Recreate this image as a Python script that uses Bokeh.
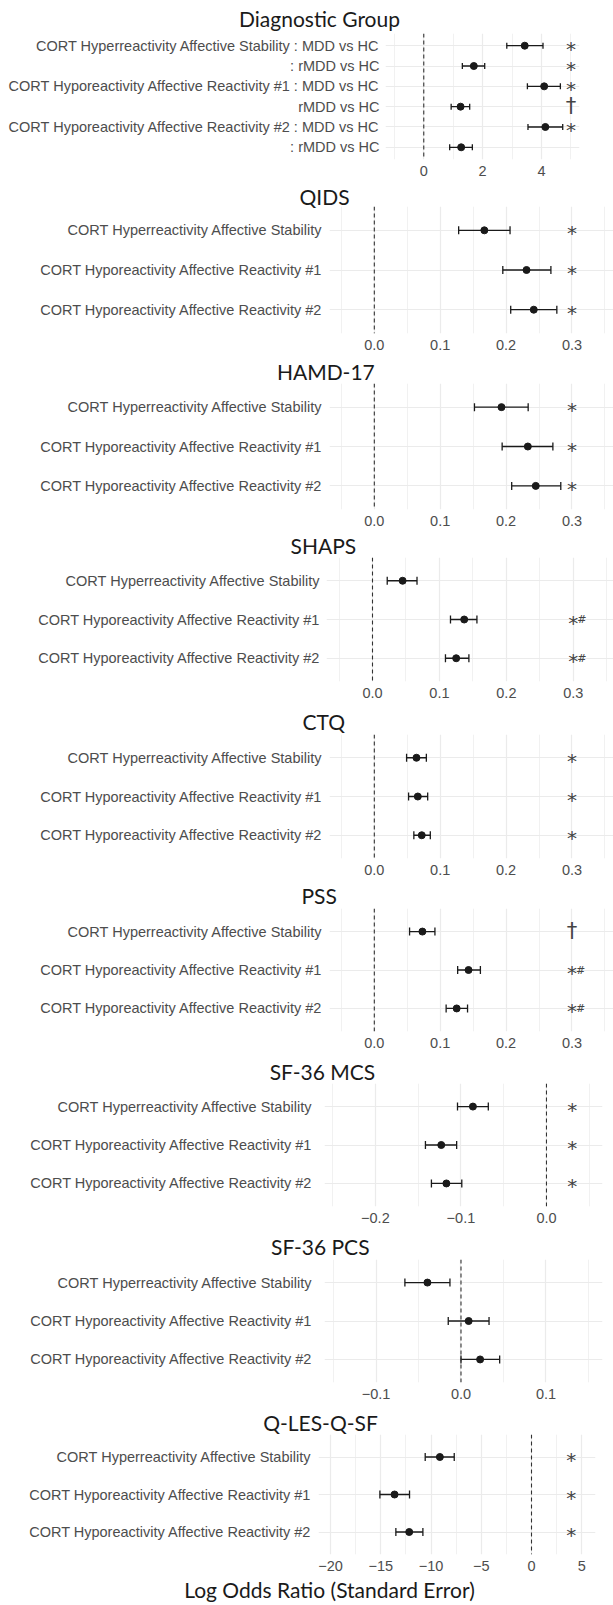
from bokeh.plotting import figure
from bokeh.layouts import column
from bokeh.models import FixedTicker, Span, Title, Whisker, TeeHead, ColumnDataSource, Range1d
from bokeh.core.properties import value
from bokeh.embed import file_html
from bokeh.resources import INLINE

# ---------------- data ----------------
panel_titles = ["Diagnostic Group", "QIDS", "HAMD-17", "SHAPS", "CTQ", "PSS",
                "SF-36 MCS", "SF-36 PCS", "Q-LES-Q-SF"]
axis_title = "Log Odds Ratio (Standard Error)"

dx_labels = ["CORT Hyperreactivity Affective Stability : MDD vs HC",
             ": rMDD vs HC",
             "CORT Hyporeactivity Affective Reactivity #1 : MDD vs HC",
             "rMDD vs HC",
             "CORT Hyporeactivity Affective Reactivity #2 : MDD vs HC",
             ": rMDD vs HC"]
scale_labels = ["CORT Hyperreactivity Affective Stability",
                "CORT Hyporeactivity Affective Reactivity #1",
                "CORT Hyporeactivity Affective Reactivity #2"]

dx_est = [3.43, 1.70, 4.09, 1.25, 4.13, 1.27]
dx_lo = [2.82, 1.31, 3.52, 0.93, 3.54, 0.88]
dx_hi = [4.05, 2.07, 4.64, 1.56, 4.72, 1.65]
dx_sig = ["*", "*", "*", "†", "*", ""]
dx_hash = ["", "", "", "", "", ""]

qids_est = [0.167, 0.231, 0.242]
qids_lo = [0.128, 0.195, 0.207]
qids_hi = [0.206, 0.268, 0.277]
qids_sig = ["*", "*", "*"]

hamd_est = [0.193, 0.233, 0.245]
hamd_lo = [0.152, 0.194, 0.2085]
hamd_hi = [0.2335, 0.271, 0.283]
hamd_sig = ["*", "*", "*"]

shaps_est = [0.045, 0.137, 0.125]
shaps_lo = [0.022, 0.1165, 0.109]
shaps_hi = [0.0665, 0.156, 0.144]
shaps_sig = ["", "*", "*"]
shaps_hash = ["", "#", "#"]

ctq_est = [0.064, 0.066, 0.072]
ctq_lo = [0.049, 0.052, 0.060]
ctq_hi = [0.079, 0.081, 0.085]
ctq_sig = ["*", "*", "*"]

pss_est = [0.073, 0.143, 0.125]
pss_lo = [0.0535, 0.1265, 0.109]
pss_hi = [0.092, 0.161, 0.1415]
pss_sig = ["†", "*", "*"]
pss_hash = ["", "#", "#"]

mcs_est = [-0.086, -0.123, -0.117]
mcs_lo = [-0.104, -0.1415, -0.1345]
mcs_hi = [-0.068, -0.105, -0.099]
mcs_sig = ["*", "*", "*"]

pcs_est = [-0.0395, 0.009, 0.0225]
pcs_lo = [-0.066, -0.015, 0.0]
pcs_hi = [-0.013, 0.033, 0.0455]
pcs_sig = ["", "", ""]

qles_est = [-9.12, -13.63, -12.17]
qles_lo = [-10.58, -15.09, -13.5]
qles_hi = [-7.69, -12.14, -10.81]
qles_sig = ["*", "*", "*"]

no_hash = ["", "", ""]

# x position of the significance column in each panel
sig_x = [5.0, 0.3, 0.3, 0.3, 0.3, 0.3, 0.03, 0.03, 3.95]

# x ticks
ticks_dx = [0, 2, 4]
tlab_dx = ["0", "2", "4"]
minor_dx = [-1, 1, 3, 5]
ticks_pos = [0.0, 0.1, 0.2, 0.3]
tlab_pos = ["0.0", "0.1", "0.2", "0.3"]
minor_pos = [-0.05, 0.05, 0.15, 0.25, 0.35]
ticks_mcs = [-0.2, -0.1, 0.0]
tlab_mcs = ["\u22120.2", "\u22120.1", "0.0"]
minor_mcs = [-0.25, -0.15, -0.05, 0.05]
ticks_pcs = [-0.1, 0.0, 0.1]
tlab_pcs = ["\u22120.1", "0.0", "0.1"]
minor_pcs = [-0.15, -0.05, 0.05, 0.15]
ticks_qles = [-20, -15, -10, -5, 0, 5]
tlab_qles = ["\u221220", "\u221215", "\u221210", "\u22125", "0", "5"]
minor_qles = [-22.5, -17.5, -12.5, -7.5, -2.5, 2.5]

panels = [
    (dx_labels, dx_est, dx_lo, dx_hi, dx_sig, dx_hash, ticks_dx, tlab_dx, minor_dx),
    (scale_labels, qids_est, qids_lo, qids_hi, qids_sig, no_hash, ticks_pos, tlab_pos, minor_pos),
    (scale_labels, hamd_est, hamd_lo, hamd_hi, hamd_sig, no_hash, ticks_pos, tlab_pos, minor_pos),
    (scale_labels, shaps_est, shaps_lo, shaps_hi, shaps_sig, shaps_hash, ticks_pos, tlab_pos, minor_pos),
    (scale_labels, ctq_est, ctq_lo, ctq_hi, ctq_sig, no_hash, ticks_pos, tlab_pos, minor_pos),
    (scale_labels, pss_est, pss_lo, pss_hi, pss_sig, pss_hash, ticks_pos, tlab_pos, minor_pos),
    (scale_labels, mcs_est, mcs_lo, mcs_hi, mcs_sig, no_hash, ticks_mcs, tlab_mcs, minor_mcs),
    (scale_labels, pcs_est, pcs_lo, pcs_hi, pcs_sig, no_hash, ticks_pcs, tlab_pcs, minor_pcs),
    (scale_labels, qles_est, qles_lo, qles_hi, qles_sig, no_hash, ticks_qles, tlab_qles, minor_qles),
]

# ---------------- layout (style only) ----------------
# height, border_top, border_bottom, border_left, border_right, x_start, x_end,
# label standoff, title offset (from frame left), title standoff, tee size
layout = [
    (178, 33, 19, 385, 34, -1.30, 5.29, 6, -146.5, 4.2, 6),
    (174, 28, 19, 329, 0, -0.068, 0.363, 7, -30.0, -6, 8),
    (176, 31, 19, 329, 0, -0.068, 0.363, 7, -52.6, -3, 8),
    (172, 29, 19, 326, 0, -0.0687, 0.360, 6, -36.0, -2, 8),
    (177, 34, 19, 329, 0, -0.068, 0.363, 7, -27.0, 0, 8),
    (173, 31, 19, 329, 0, -0.068, 0.363, 7, -28.0, 0, 8),
    (175, 33, 19, 324, 11, -0.2595, 0.0655, 12, -54.8, -2.2, 8),
    (176, 34, 19, 324, 11, -0.1606, 0.1665, 12, -53.5, 0, 8),
    (204, 33, 49, 318, 18, -21.2, 6.37, 7, -55.3, -2, 8),
]
axis_title_offset = -134.3
axis_title_standoff = 5

W = 613
LABEL_FONT = "Liberation Sans"
TITLE_FONT = "Lato"
GRID = "#EBEBEB"
INK = "#1a1a1a"
TXT = "#4D4D4D"
MARK = "#444444"

figs = []
for k, (pan, lay) in enumerate(zip(panels, layout)):
    labels, est, lo, hi, sig, hsh, ticks, tlabs, minor = pan
    (h, bt, bb, bl, br, xs, xe, standoff, toff, tstand, tee) = lay
    n = len(labels)
    rows = list(range(n, 0, -1))

    p = figure(width=W, height=h, output_backend="svg", toolbar_location=None,
               x_range=Range1d(xs, xe), y_range=Range1d(0.4, n + 0.6),
               min_border_left=bl, min_border_right=br,
               min_border_top=bt, min_border_bottom=bb)
    p.frame_align = False
    p.outline_line_color = None
    p.background_fill_color = "white"
    p.border_fill_color = "white"

    # x axis
    xa = p.xaxis[0]
    xa.ticker = FixedTicker(ticks=ticks, minor_ticks=minor)
    xa.major_label_overrides = {t: l for t, l in zip(ticks, tlabs)}
    xa.axis_line_color = None
    xa.major_tick_line_color = None
    xa.minor_tick_line_color = None
    xa.major_tick_out = 0
    xa.major_tick_in = 0
    xa.major_label_standoff = 2
    xa.major_label_text_font = LABEL_FONT
    xa.major_label_text_font_size = "14.5px"
    xa.major_label_text_color = TXT

    # y axis
    ya = p.yaxis[0]
    ya.ticker = FixedTicker(ticks=rows)
    ya.major_label_overrides = {r: l for r, l in zip(rows, labels)}
    ya.axis_line_color = None
    ya.major_tick_line_color = None
    ya.minor_tick_line_color = None
    ya.major_tick_out = 0
    ya.major_tick_in = 0
    ya.major_label_standoff = standoff
    ya.major_label_text_font = LABEL_FONT
    ya.major_label_text_font_size = "14.5px"
    ya.major_label_text_color = TXT

    # grids
    p.xgrid.grid_line_color = GRID
    p.xgrid.grid_line_width = 1.2
    p.xgrid.minor_grid_line_color = GRID
    p.xgrid.minor_grid_line_width = 0.7
    p.ygrid.grid_line_color = GRID
    p.ygrid.grid_line_width = 1.2

    # reference line at zero
    p.add_layout(Span(location=0, dimension="height", line_color="#333333",
                      line_dash="4 3", line_width=1.1))

    stars = [s if s == "*" else "" for s in sig]
    daggers = [s if s == "†" else "" for s in sig]
    src = ColumnDataSource(dict(y=rows, est=est, lo=lo, hi=hi, star=stars,
                                dag=daggers, hsh=hsh, sx=[sig_x[k]] * n))
    p.add_layout(Whisker(source=src, base="y", lower="lo", upper="hi",
                         dimension="width", line_color=INK, line_width=1.3,
                         lower_head=TeeHead(size=tee, line_color=INK, line_width=1.3),
                         upper_head=TeeHead(size=tee, line_color=INK, line_width=1.3)))
    p.scatter(x="est", y="y", source=src, size=7, color=INK, line_color=INK)

    p.text(x="sx", y="y", text="star", source=src, text_align="center",
           text_baseline="middle", y_offset=3, text_font=value("DejaVu Sans"),
           text_font_size="20px", text_color=MARK)
    p.text(x="sx", y="y", text="dag", source=src, text_align="center",
           text_baseline="middle", y_offset=-1, text_font=value("DejaVu Sans"),
           text_font_size="21px", text_color=MARK)
    p.text(x="sx", y="y", text="hsh", source=src, text_align="left",
           text_baseline="middle", x_offset=4, y_offset=0, text_font=value("DejaVu Sans"),
           text_font_size="11px", text_color=MARK)

    # panel title
    p.add_layout(Title(text=panel_titles[k], align="left", offset=toff,
                       vertical_align="middle", standoff=tstand,
                       text_font=TITLE_FONT, text_font_size="21px",
                       text_font_style="normal", text_color=INK), "above")
    if k == len(panels) - 1:
        p.add_layout(Title(text=axis_title, align="left", offset=axis_title_offset,
                           vertical_align="middle", standoff=axis_title_standoff,
                           text_font=TITLE_FONT, text_font_size="21px",
                           text_font_style="normal", text_color=INK), "below")
    figs.append(p)

layout_col = column(*figs, spacing=0)
open("out.html", "w").write(file_html(layout_col, INLINE))
